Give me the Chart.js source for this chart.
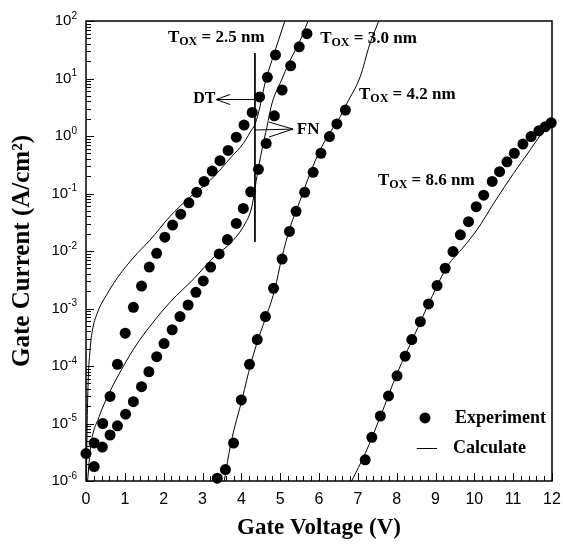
<!DOCTYPE html>
<html lang="en">
<head>
<meta charset="UTF-8">
<title>Gate Current vs Gate Voltage</title>
<script src="https://cdn.jsdelivr.net/npm/chart.js"></script>
<style>
  html, body { margin: 0; padding: 0; background: #fff; }
</style>
</head>
<body>
<canvas id="myChart" width="563" height="545"></canvas>

<script>
  // experiment, gate voltage (V) / gate current (A/cm2)
  const expV25 = [0, 0.21, 0.43, 0.62, 0.81, 1.01, 1.22, 1.43, 1.63, 1.82, 2.03, 2.23, 2.44, 2.65, 2.85, 3.04, 3.25, 3.45, 3.66, 3.87, 4.07, 4.28, 4.47, 4.67, 4.88];
  const expI25 = [3.0e-6, 4.6e-6, 1.0e-5, 2.95e-5, 1.07e-4, 3.72e-4, 1.05e-3, 2.45e-3, 5.25e-3, 9.1e-3, 1.74e-2, 2.82e-2, 4.37e-2, 6.9e-2, 0.105, 0.162, 0.245, 0.372, 0.562, 0.955, 1.55, 2.57, 4.79, 10.5, 25.7];

  const expV30 = [0.21, 0.42, 0.62, 0.81, 1.02, 1.22, 1.43, 1.62, 1.82, 2.01, 2.22, 2.42, 2.63, 2.83, 3.02, 3.21, 3.43, 3.64, 3.87, 4.05, 4.24, 4.44, 4.64, 4.85, 5.05, 5.27, 5.49, 5.69];
  const expI30 = [1.78e-6, 3.89e-6, 6.31e-6, 9.12e-6, 1.45e-5, 2.4e-5, 4.37e-5, 7.94e-5, 1.45e-4, 2.45e-4, 4.27e-4, 7.24e-4, 1.15e-3, 1.91e-3, 3.02e-3, 5.25e-3, 8.91e-3, 1.58e-2, 3.02e-2, 5.5e-2, 0.107, 0.263, 0.741, 2.24, 6.31, 16.6, 35.5, 60.3];

  const expV42 = [3.38, 3.59, 3.80, 4.00, 4.21, 4.41, 4.62, 4.83, 5.05, 5.24, 5.41, 5.63, 5.85, 6.05, 6.27, 6.46, 6.68];
  const expI42 = [1.12e-6, 1.58e-6, 4.57e-6, 2.57e-5, 1.07e-4, 2.88e-4, 7.24e-4, 2.24e-3, 7.24e-3, 2.19e-2, 4.9e-2, 0.105, 0.234, 0.501, 0.977, 1.62, 2.82];

  const expV86 = [7.19, 7.36, 7.58, 7.79, 8.01, 8.22, 8.39, 8.61, 8.82, 9.04, 9.25, 9.45, 9.64, 9.85, 10.05, 10.24, 10.46, 10.65, 10.84, 11.03, 11.25, 11.46, 11.66, 11.83, 11.98];
  const expI86 = [2.34e-6, 5.75e-6, 1.35e-5, 3.02e-5, 6.76e-5, 1.48e-4, 2.88e-4, 5.89e-4, 1.2e-3, 2.51e-3, 5.01e-3, 9.77e-3, 1.91e-2, 3.24e-2, 5.89e-2, 9.33e-2, 0.162, 0.24, 0.355, 0.501, 0.724, 0.977, 1.23, 1.45, 1.70];

  // calculated curves
  const calcV25 = [0.01, 0.03, 0.06, 0.10, 0.16, 0.29, 0.55, 0.89, 1.32, 1.65, 2.16, 2.68, 3.20, 3.75, 4.05, 4.23, 4.36, 4.48, 4.61, 4.79, 4.96, 5.13];
  const calcI25 = [1e-6, 1e-5, 6.3e-5, 1.78e-4, 3.98e-4, 8.3e-4, 1.82e-3, 4.07e-3, 9.1e-3, 1.55e-2, 3.98e-2, 8.7e-2, 0.17, 0.437, 0.741, 1.17, 1.66, 3.24, 8.3, 20.9, 46.8, 105];

  const calcV30 = [0.04, 0.12, 0.34, 0.59, 0.81, 1.24, 1.67, 2.18, 2.78, 3.30, 3.71, 4.10, 4.27, 4.40, 4.53, 4.66, 4.79, 5.00, 5.26, 5.52, 5.73];
  const calcI30 = [1e-6, 3.98e-6, 1.32e-5, 3.31e-5, 6.46e-5, 2.04e-4, 5.13e-4, 1.32e-3, 3.31e-3, 7.94e-3, 1.35e-2, 3.02e-2, 5.89e-2, 0.195, 0.575, 1.45, 3.72, 8.3, 20.9, 46.8, 105];

  const calcV42 = [3.56, 3.73, 4.03, 4.24, 4.45, 4.66, 4.87, 5.03, 5.26, 5.52, 5.77, 6.03, 6.29, 6.55, 6.72, 7.06, 7.30, 7.55];
  const calcI42 = [1e-6, 4.47e-6, 2.82e-5, 1.07e-4, 3.16e-4, 7.94e-4, 2.24e-3, 7.08e-3, 2.63e-2, 7.76e-2, 0.224, 0.575, 1.17, 2.19, 3.72, 10.7, 38, 105];

  const calcV86 = [6.84, 7.19, 7.58, 8.01, 8.44, 8.87, 9.30, 9.72, 10.07, 10.50, 11.01, 11.44, 11.79, 12.0];
  const calcI86 = [1e-6, 3.02e-6, 1.32e-5, 7.41e-5, 3.24e-4, 1.41e-3, 5.37e-3, 1.17e-2, 2.34e-2, 6.76e-2, 0.224, 0.575, 1.26, 1.9];

  // DT / FN marker line
  const markV = [4.35, 4.35];
  const markI = [27.7, 0.0144];

  const xTicks = [0, 1, 2, 3, 4, 5, 6, 7, 8, 9, 10, 11, 12];
  const yTicks = [1e-6, 1e-5, 1e-4, 1e-3, 1e-2, 1e-1, 1e0, 1e1, 1e2];

  // text notes, anchored in data units
  const oxLabels = [
    { t: ' = 2.5 nm', x: 2.11, y: 43 },
    { t: ' = 3.0 nm', x: 6.03, y: 41.4 },
    { t: ' = 4.2 nm', x: 7.03, y: 4.4 },
    { t: ' = 8.6 nm', x: 7.52, y: 0.14 }
  ];

  function pts(xs, ys) {
    return xs.map((x, k) => ({ x: x, y: ys[k] }));
  }

  function dots(xs, ys) {
    return {
      data: pts(xs, ys), showLine: false, clip: false,
      pointRadius: 5.5, pointHoverRadius: 5.5,
      pointBackgroundColor: '#000', pointBorderWidth: 0
    };
  }

  function curve(xs, ys) {
    return {
      data: pts(xs, ys), showLine: true, pointRadius: 0,
      borderColor: '#000', borderWidth: 1,
      cubicInterpolationMode: 'monotone'
    };
  }

  const SERIF = '"Liberation Serif", "Times New Roman", serif';
  const SANS = '"Liberation Sans", Arial, sans-serif';

  const decor = {
    id: 'decor',
    afterDraw(chart) {
      const { ctx, chartArea: a } = chart;
      const X = v => chart.scales.x.getPixelForValue(v);
      const Y = v => chart.scales.y.getPixelForValue(v);
      const r = v => Math.round(v) + 0.5;
      ctx.save();
      ctx.strokeStyle = '#000';
      ctx.fillStyle = '#000';

      ctx.lineWidth = 1.5;
      ctx.strokeRect(a.left, a.top, a.right - a.left, a.bottom - a.top);

      // inward ticks
      ctx.lineWidth = 1;
      ctx.beginPath();
      xTicks.forEach((v, k) => {
        const p = r(X(v));
        ctx.moveTo(p, a.bottom); ctx.lineTo(p, a.bottom - 8);
        if (k < xTicks.length - 1) {
          for (let m = 1; m < 5; m++) {
            const q = r(X(v + m * 0.2));
            ctx.moveTo(q, a.bottom); ctx.lineTo(q, a.bottom - 5);
          }
        }
      });
      yTicks.forEach((v, k) => {
        const p = r(Y(v));
        ctx.moveTo(a.left, p); ctx.lineTo(a.left + 8, p);
        if (k < yTicks.length - 1) {
          for (let m = 2; m < 10; m++) {
            const q = r(Y(v * m));
            ctx.moveTo(a.left, q); ctx.lineTo(a.left + 5, q);
          }
        }
      });
      ctx.stroke();

      // tick labels
      ctx.textBaseline = 'middle';
      ctx.textAlign = 'center';
      ctx.font = '16px ' + SANS;
      xTicks.forEach(v => ctx.fillText(String(v), X(v), a.bottom + 19));

      ctx.textAlign = 'left';
      yTicks.forEach(v => {
        const e = String(Math.round(Math.log10(v)));
        ctx.font = '10px ' + SANS;
        const we = ctx.measureText(e).width;
        ctx.font = '15px ' + SANS;
        const wb = ctx.measureText('10').width;
        const right = a.left - 9;
        const p = Y(v);
        ctx.fillText('10', right - we - wb, p);
        ctx.font = '10px ' + SANS;
        ctx.fillText(e, right - we, p - 5);
      });

      // T_OX labels
      ctx.textBaseline = 'alphabetic';
      oxLabels.forEach(l => {
        let x = X(l.x);
        const y = Y(l.y);
        ctx.font = 'bold 17px ' + SERIF;
        ctx.fillText('T', x, y);
        x += ctx.measureText('T').width;
        ctx.font = 'bold 12px ' + SERIF;
        ctx.fillText('OX', x, y + 3);
        x += ctx.measureText('OX').width;
        ctx.font = 'bold 17px ' + SERIF;
        ctx.fillText(l.t, x, y);
      });

      // DT arrow
      ctx.font = 'bold 16px ' + SERIF;
      ctx.fillText('DT', X(2.76), Y(3.75));
      const dy = r(Y(4.35));
      const dx0 = X(4.35), dx1 = X(3.35);
      ctx.beginPath();
      ctx.moveTo(dx0, dy); ctx.lineTo(dx1, dy);
      ctx.moveTo(dx1 + 14, dy - 5); ctx.lineTo(dx1, dy); ctx.lineTo(dx1 + 14, dy + 5);
      ctx.stroke();

      // FN arrow
      ctx.font = 'bold 17px ' + SERIF;
      ctx.fillText('FN', X(5.43), Y(1.08));
      const fx0 = X(4.35), fy0 = Y(1.27);
      const fx1 = X(5.33), fy1 = Y(1.32);
      ctx.beginPath();
      ctx.moveTo(fx0, fy0); ctx.lineTo(fx1, fy1);
      ctx.moveTo(fx1 - 24, fy1 - 7); ctx.lineTo(fx1, fy1); ctx.lineTo(fx1 - 24, fy1 + 8);
      ctx.stroke();

      // legend
      const lx = X(8.73), ly = Y(1.25e-5);
      ctx.beginPath();
      ctx.arc(lx, ly, 5.5, 0, Math.PI * 2);
      ctx.fill();
      ctx.font = 'bold 18px ' + SERIF;
      ctx.textBaseline = 'middle';
      ctx.fillText('Experiment', X(9.5), ly);
      const cy = Y(3.7e-6);
      ctx.beginPath();
      ctx.moveTo(X(8.52), r(cy)); ctx.lineTo(X(9.04), r(cy));
      ctx.stroke();
      ctx.fillText('Calculate', X(9.45), cy);

      ctx.restore();
    }
  };

  const ctx = document.getElementById('myChart');
  new Chart(ctx, {
    type: 'scatter',
    data: {
      datasets: [
        dots(expV25, expI25),
        dots(expV30, expI30),
        dots(expV42, expI42),
        dots(expV86, expI86),
        curve(calcV25, calcI25),
        curve(calcV30, calcI30),
        curve(calcV42, calcI42),
        curve(calcV86, calcI86),
        { data: pts(markV, markI), showLine: true, pointRadius: 0, borderColor: '#000', borderWidth: 1 }
      ]
    },
    options: {
      responsive: false,
      devicePixelRatio: 1,
      animation: false,
      layout: { padding: { top: 21, right: 11, left: 0, bottom: 0 } },
      plugins: { legend: { display: false }, tooltip: { enabled: false } },
      scales: {
        x: {
          type: 'linear', min: 0, max: 12,
          grid: { display: false }, border: { display: false },
          ticks: { display: false },
          afterBuildTicks: s => { s.ticks = xTicks.map(v => ({ value: v })); },
          afterFit: s => { s.height = 64; },
          title: {
            display: true, text: 'Gate Voltage (V)', color: '#000',
            font: { family: SERIF, size: 23, weight: 'bold' },
            padding: { top: 0, bottom: 3 }
          }
        },
        y: {
          type: 'logarithmic', min: 1e-6, max: 1e2,
          grid: { display: false }, border: { display: false },
          ticks: { display: false },
          afterBuildTicks: s => { s.ticks = yTicks.map(v => ({ value: v })); },
          afterFit: s => { s.width = 86; },
          title: {
            display: true, text: 'Gate Current (A/cm²)', color: '#000',
            font: { family: SERIF, size: 25, weight: 'bold' },
            padding: { top: 8, bottom: 0 }
          }
        }
      }
    },
    plugins: [decor]
  });
</script>
</body>
</html>
